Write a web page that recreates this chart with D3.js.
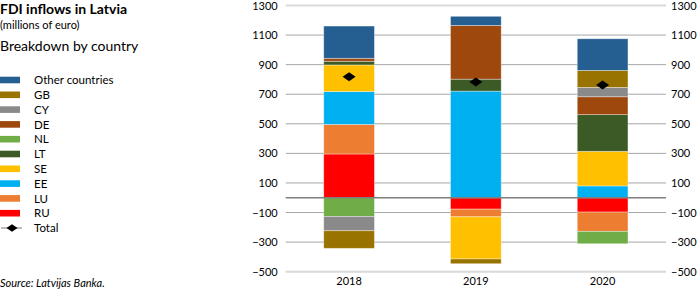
<!DOCTYPE html>
<html>

<head>
  <meta charset="utf-8">
  <title>FDI inflows in Latvia</title>

  <style>
    body,
    html {
      margin: 0;
      padding: 0;
      background: #fff;
    }

    svg text {
      font-family: Lato, "Open Sans", sans-serif;
      fill: #000;
    }
  </style>
</head>

<body>

  <svg id="svg" width="697" height="290"></svg>

  <script src="https://d3js.org/d3.v7.min.js"></script>
  <script>
    // values (millions of euro)
    const years = ["2018", "2019", "2020"]
    const RU = [296, -77, -97]
    const LU = [200, -52, -130]
    const EE = [222, 721, 80]
    const SE = [180, -285, 234]
    const LT = [25, 81, 248]
    const NL = [-126, 0, -84]
    const DE = [20, 363, 121]
    const CY = [-97, 0, 63]
    const GB = [-119, -32, 115]
    const OTHER = [218, 62, 214]
    const totals = [818, 782, 762]
    const yTicks = [-500, -300, -100, 100, 300, 500, 700, 900, 1100, 1300]

    const series = [
      { key: "RU", label: "RU", values: RU, color: "#ff0000" },
      { key: "LU", label: "LU", values: LU, color: "#ed7d31" },
      { key: "EE", label: "EE", values: EE, color: "#00b0f0" },
      { key: "SE", label: "SE", values: SE, color: "#ffc000" },
      { key: "LT", label: "LT", values: LT, color: "#3c5a25" },
      { key: "NL", label: "NL", values: NL, color: "#70ad47" },
      { key: "DE", label: "DE", values: DE, color: "#9e480e" },
      { key: "CY", label: "CY", values: CY, color: "#8a8a8a" },
      { key: "GB", label: "GB", values: GB, color: "#997300" },
      { key: "OTHER", label: "Other countries", values: OTHER, color: "#255e91" }
    ]

    const rows = years.map((y, i) => {
      const r = { year: y, total: totals[i] }
      series.forEach(s => r[s.key] = s.values[i])
      return r
    })

    const svg = d3.select("#svg")
    const plotLeft = 285.7
    const plotRight = 666
    const plotTop = 5.5
    const plotBottom = 271.7

    const x = d3.scaleBand()
      .domain(years)
      .range([plotLeft, plotRight])
      .paddingInner(0.6)
      .paddingOuter(0.3)

    const y = d3.scaleLinear()
      .domain([-500, 1300])
      .range([plotBottom, plotTop])

    // gridlines
    const grid = svg.append("g")
    grid.selectAll("line")
      .data(yTicks)
      .enter()
      .append("line")
      .attr("x1", plotLeft)
      .attr("x2", plotRight)
      .attr("y1", d => y(d))
      .attr("y2", d => y(d))
      .attr("stroke", d => (d === 1300 || d === -500) ? "#d9d9d9" : "#a6a6a6")
      .attr("stroke-width", d => (d === 1300 || d === -500) ? 2 : 1)

    // stacked bars
    const stack = d3.stack()
      .keys(series.map(s => s.key))
      .offset(d3.stackOffsetDiverging)
    const stacked = stack(rows)

    svg.append("g")
      .selectAll("g")
      .data(stacked)
      .enter()
      .append("g")
      .attr("fill", (d, i) => series[i].color)
      .selectAll("rect")
      .data(d => d.filter(p => p[1] !== p[0]))
      .enter()
      .append("rect")
      .attr("x", d => x(d.data.year))
      .attr("width", x.bandwidth())
      .attr("y", d => y(Math.max(d[0], d[1])))
      .attr("height", d => Math.abs(y(d[0]) - y(d[1])))
      .attr("stroke", "rgba(255,255,255,0.45)")
      .attr("stroke-width", 0.8)

    // zero line
    svg.append("line")
      .attr("x1", plotLeft)
      .attr("x2", plotRight)
      .attr("y1", y(0))
      .attr("y2", y(0))
      .attr("stroke", "#7f7f7f")
      .attr("stroke-width", 1.5)

    // diamond marker for totals
    const diamond = d3.symbol().type({
      draw(ctx, size) {
        const w = 6.5, h = 4.5
        ctx.moveTo(0, -h)
        ctx.lineTo(w, 0)
        ctx.lineTo(0, h)
        ctx.lineTo(-w, 0)
        ctx.closePath()
      }
    })

    svg.append("g")
      .selectAll("path")
      .data(rows)
      .enter()
      .append("path")
      .attr("d", diamond)
      .attr("transform", d => `translate(${x(d.year) + x.bandwidth() / 2}, ${y(d.total)})`)
      .attr("fill", "#000")

    // axes
    const fmt = d3.format("d")
    const leftAxis = d3.axisLeft(y).tickValues(yTicks).tickFormat(fmt).tickSize(0).tickPadding(8)
    const rightAxis = d3.axisRight(y).tickValues(yTicks).tickFormat(fmt).tickSize(0).tickPadding(5)
    const bottomAxis = d3.axisBottom(x).tickSize(0).tickPadding(6)

    const gl = svg.append("g")
      .attr("transform", `translate(${plotLeft}, 0)`)
      .call(leftAxis)
    const gr = svg.append("g")
      .attr("transform", `translate(${plotRight}, 0)`)
      .call(rightAxis)
    const gb = svg.append("g")
      .attr("transform", `translate(0, ${plotBottom})`)
      .call(bottomAxis)

    ;[gl, gr, gb].forEach(g => {
      g.select(".domain").remove()
      g.selectAll("text")
        .attr("font-size", 11)
        .attr("font-family", "Lato, sans-serif")
        .attr("fill", "#000")
    })

    // titles
    svg.append("text")
      .attr("x", 0)
      .attr("y", 14)
      .attr("font-size", 14)
      .attr("font-weight", "bold")
      .text("FDI inflows in Latvia")
    svg.append("text")
      .attr("x", 0)
      .attr("y", 29)
      .attr("font-size", 11)
      .text("(millions of euro)")
    svg.append("text")
      .attr("x", 0)
      .attr("y", 51)
      .attr("font-size", 14)
      .text("Breakdown by country")

    // legend
    const legendItems = series.slice().reverse()
    const legend = svg.append("g")
    const rowH = 14.8
    const legendTop = 80

    const li = legend.selectAll("g")
      .data(legendItems)
      .enter()
      .append("g")
      .attr("transform", (d, i) => `translate(0, ${legendTop + i * rowH})`)
    li.append("rect")
      .attr("x", 0)
      .attr("y", -3.3)
      .attr("width", 20)
      .attr("height", 6.6)
      .attr("fill", d => d.color)
    li.append("text")
      .attr("x", 34)
      .attr("y", 4.2)
      .attr("font-size", 11.5)
      .text(d => d.label)

    const lt = legend.append("g")
      .attr("transform", `translate(0, ${legendTop + legendItems.length * rowH})`)
    lt.append("line")
      .attr("x1", 1)
      .attr("x2", 22)
      .attr("stroke", "#a6a6a6")
      .attr("stroke-width", 1.5)
    lt.append("path")
      .attr("d", diamond)
      .attr("transform", "translate(12, 0) scale(0.85)")
      .attr("fill", "#000")
    lt.append("text")
      .attr("x", 34)
      .attr("y", 4.2)
      .attr("font-size", 11.5)
      .text("Total")

    svg.append("text")
      .attr("x", 0)
      .attr("y", 287)
      .attr("font-size", 11)
      .attr("font-style", "italic")
      .text("Source: Latvijas Banka.")
  </script>
</body>

</html>
